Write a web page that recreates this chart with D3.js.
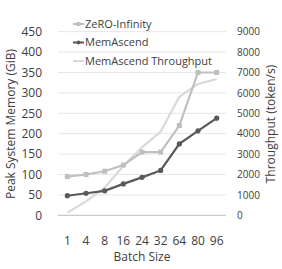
<!DOCTYPE html>
<html><head><meta charset="utf-8">
<script src="https://cdn.jsdelivr.net/npm/d3@7"></script>
<style>body{margin:0;background:#fff}svg{display:block}text{font-family:"Open Sans",sans-serif}</style>
</head><body>
<script>
const categories = ["1","4","8","16","24","32","64","80","96"];
const zeroInfinity = [95,100,108,123,155,155,220,350,350];
const memAscend = [48,54,60,77,93,110,175,207,238];
const memAscendThroughput = [130,680,1350,2420,3330,4100,5810,6440,6680];
const leftTicks = [0,50,100,150,200,250,300,350,400,450];
const rightTicks = [0,1000,2000,3000,4000,5000,6000,7000,8000,9000];

const W=282,H=269;
const svg=d3.select("body").append("svg").attr("width",W).attr("height",H);
const x=d3.scaleBand().domain(categories).range([58,226]);
const yL=d3.scaleLinear().domain([0,450]).range([215.3,31.7]);
const yR=d3.scaleLinear().domain([0,9000]).range([215.3,31.7]);
const cx=d=>x(d)+x.bandwidth()/2;

// gridlines
svg.append("g").selectAll("line").data(leftTicks.slice(1)).join("line")
  .attr("x1",58).attr("x2",226).attr("y1",d=>yL(d)).attr("y2",d=>yL(d))
  .attr("stroke","#e6e6e6").attr("stroke-width",1);
svg.append("line").attr("x1",58).attr("x2",226).attr("y1",yL(0)).attr("y2",yL(0))
  .attr("stroke","#bfbfbf").attr("stroke-width",1);

// left axis labels
const lax=svg.append("g").attr("transform","translate(42,0)")
  .call(d3.axisLeft(yL).tickValues(leftTicks).tickSize(0).tickPadding(0));
lax.select(".domain").remove();
lax.selectAll("text").attr("font-size",12).attr("fill","#404040").attr("font-family","Open Sans");
const rax=svg.append("g").attr("transform","translate(237,0)")
  .call(d3.axisRight(yR).tickValues(rightTicks).tickFormat(d3.format("d")).tickSize(0).tickPadding(0));
rax.select(".domain").remove();
rax.selectAll("text").attr("font-size",10).attr("fill","#404040").attr("font-family","Open Sans");
const xax=svg.append("g").attr("transform","translate(0,236)")
  .call(d3.axisBottom(x).tickSize(0).tickPadding(0));
xax.select(".domain").remove();
xax.selectAll("text").attr("font-size",12).attr("fill","#404040").attr("font-family","Open Sans");

// titles
svg.append("text").attr("transform","translate(15,124) rotate(-90)").attr("text-anchor","middle")
  .attr("font-size",12).attr("fill","#404040").text("Peak System Memory (GiB)");
svg.append("text").attr("transform","translate(275,124) rotate(-90)").attr("text-anchor","middle")
  .attr("font-size",12).attr("fill","#404040").text("Throughput (token/s)");
svg.append("text").attr("x",142).attr("y",261).attr("text-anchor","middle")
  .attr("font-size",12).attr("fill","#404040").text("Batch Size");

// lines
const lineL=d3.line().x((d,i)=>cx(categories[i])).y(d=>yL(d));
const lineR=d3.line().x((d,i)=>cx(categories[i])).y(d=>yR(d));
svg.append("path").attr("d",lineR(memAscendThroughput)).attr("fill","none")
  .attr("stroke","#d9d9d9").attr("stroke-width",2.2);
svg.append("path").attr("d",lineL(zeroInfinity)).attr("fill","none")
  .attr("stroke","#bfbfbf").attr("stroke-width",2.2);
svg.append("g").selectAll("rect").data(zeroInfinity).join("rect")
  .attr("x",(d,i)=>cx(categories[i])-2.5).attr("y",d=>yL(d)-2.5).attr("width",5).attr("height",5)
  .attr("fill","#bfbfbf");
svg.append("path").attr("d",lineL(memAscend)).attr("fill","none")
  .attr("stroke","#595959").attr("stroke-width",2.2);
svg.append("g").selectAll("circle").data(memAscend).join("circle")
  .attr("cx",(d,i)=>cx(categories[i])).attr("cy",d=>yL(d)).attr("r",2.6).attr("fill","#595959");

// legend
const leg=[{n:"ZeRO-Infinity",c:"#bfbfbf",m:"rect"},{n:"MemAscend",c:"#595959",m:"circle"},{n:"MemAscend Throughput",c:"#d9d9d9",m:null}];
const lg=svg.append("g");
leg.forEach((d,i)=>{
  const y=24+i*18.5;
  lg.append("line").attr("x1",73).attr("x2",84).attr("y1",y).attr("y2",y).attr("stroke",d.c).attr("stroke-width",2);
  if(d.m==="rect") lg.append("rect").attr("x",76.5).attr("y",y-2).attr("width",4).attr("height",4).attr("fill",d.c);
  if(d.m==="circle") lg.append("circle").attr("cx",78.5).attr("cy",y).attr("r",2).attr("fill",d.c);
  lg.append("text").attr("x",85).attr("y",y).attr("dy","0.35em").attr("font-size",11).attr("fill","#404040").text(d.n);
});
</script>
</body></html>
